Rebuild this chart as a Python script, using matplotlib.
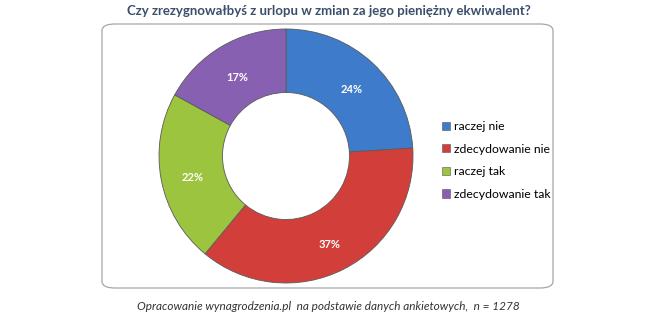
import numpy as np
import matplotlib.pyplot as plt
from matplotlib.patches import FancyBboxPatch, Patch

categories = ['raczej nie', 'zdecydowanie nie', 'raczej tak', 'zdecydowanie tak']
values = [24, 37, 22, 17]
colors = ['#3F7BCB', '#D23F3B', '#9CC43E', '#8760B2']

plt.rcParams['font.family'] = ['Lato', 'DejaVu Sans']

W, H = 657, 323
fig = plt.figure(figsize=(W / 100, H / 100), dpi=100)
fig.patch.set_facecolor('white')

# ramka wykresu
box = FancyBboxPatch((102 / W, 1 - 288 / H), 451 / W, 264 / H,
                     boxstyle='round,pad=0,rounding_size=0.02',
                     transform=fig.transFigure, facecolor='white',
                     edgecolor='#A6A6A6', linewidth=0.9, zorder=-5)
fig.patches.append(box)

fig.text(0.5, 1 - 11 / H, 'Czy zrezygnowałbyś z urlopu w zmian za jego pieniężny ekwiwalent?',
         ha='center', va='center', fontsize=9.5, fontweight='bold', color='#3B4F6B')

# pierścień
cx, cy, half = 286, 156, 130
ax = fig.add_axes([(cx - half) / W, (H - cy - half) / H, 2 * half / W, 2 * half / H])
ax.set_zorder(2)
ax.patch.set_alpha(0)
r = 127 / half
wedges, texts = ax.pie(values, colors=colors, startangle=90, counterclock=False,
                       radius=r, wedgeprops=dict(width=r * 0.5, edgecolor='#5A5A5A', linewidth=0.6))
for w, v in zip(wedges, values):
    ang = np.deg2rad((w.theta1 + w.theta2) / 2)
    rr = r * 0.75
    ax.text(rr * np.cos(ang), rr * np.sin(ang) - 0.025, f'{v}%', ha='center', va='center',
            color='white', fontsize=8, fontweight='bold')
ax.set_xlim(-1, 1)
ax.set_ylim(-1, 1)
ax.set_aspect('equal')
ax.axis('off')

handles = [Patch(facecolor=c, edgecolor='#555555', linewidth=0.4) for c in colors]
fig.legend(handles, categories, loc='upper left', bbox_to_anchor=(431 / W, 1 - 110 / H),
           frameon=False, fontsize=8.8, handlelength=0.65, handleheight=0.65,
           handletextpad=0.35, labelspacing=0.95)

fig.text(0.5, 1 - 306 / H, 'Opracowanie wynagrodzenia.pl  na podstawie danych ankietowych,  n = 1278',
         ha='center', va='center', fontsize=8.5, style='italic', color='#333333')

fig.savefig('out.png', dpi=100)
